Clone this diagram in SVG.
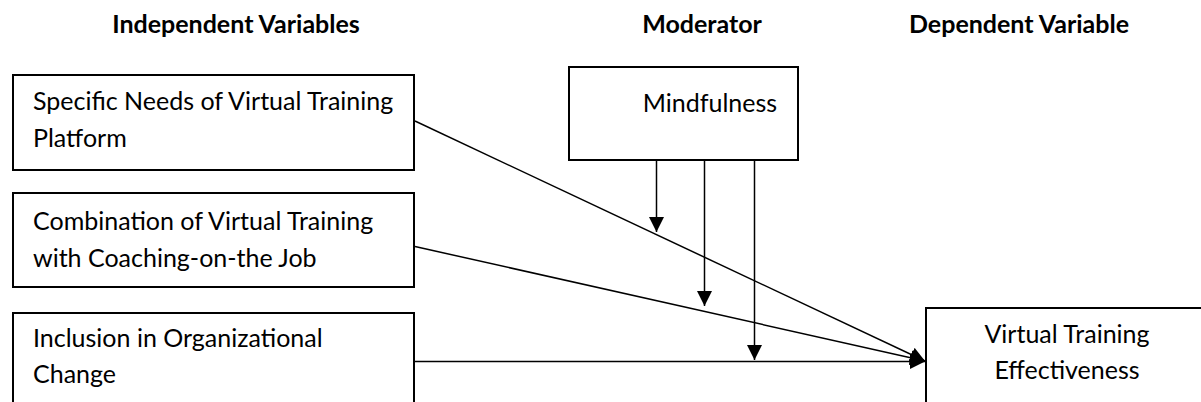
<svg xmlns="http://www.w3.org/2000/svg" width="1201" height="402" viewBox="0 0 1201 402">
<style>
.box{fill:#fff;stroke:#000;stroke-width:2}
.hdr{font-family:Lato,"Liberation Sans",sans-serif;font-weight:bold;font-size:25px;fill:#000}
.txt{font-family:Lato,"Liberation Sans",sans-serif;font-size:25px;fill:#000}
.ln{stroke:#000;stroke-width:1.5;fill:none}
</style>
<defs>
<marker id="ah" markerUnits="userSpaceOnUse" markerWidth="16" markerHeight="16" viewBox="0 0 16 16" refX="15" refY="8" orient="auto">
<path d="M0,0.5 L15,8 L0,15.5 Z" fill="#000"/>
</marker>
</defs>
<rect width="1201" height="402" fill="#fff"/>
<g id="headers">
<text class="hdr" x="236" y="33" text-anchor="middle">Independent Variables</text>
<text class="hdr" x="702" y="33" text-anchor="middle">Moderator</text>
<text class="hdr" x="1019" y="33" text-anchor="middle">Dependent Variable</text>
</g>
<g id="connectors">
<line class="ln" x1="415" y1="121" x2="925" y2="361" marker-end="url(#ah)"/>
<line class="ln" x1="415" y1="246.5" x2="925" y2="361" marker-end="url(#ah)"/>
<line class="ln" x1="415" y1="361.5" x2="925" y2="361.5" marker-end="url(#ah)"/>
<line class="ln" x1="656.5" y1="160" x2="656.5" y2="232" marker-end="url(#ah)"/>
<line class="ln" x1="704.5" y1="160" x2="704.5" y2="306" marker-end="url(#ah)"/>
<line class="ln" x1="754.5" y1="160" x2="754.5" y2="360" marker-end="url(#ah)"/>
</g>
<g id="node-specific-needs">
<rect class="box" x="13" y="75" width="401" height="95"/>
<text class="txt" x="33" y="110">Specific Needs of Virtual Training</text>
<text class="txt" x="33" y="147">Platform</text>
</g>
<g id="node-combination">
<rect class="box" x="13" y="193" width="401" height="94"/>
<text class="txt" x="33" y="230">Combination of Virtual Training</text>
<text class="txt" x="33" y="267">with Coaching-on-the Job</text>
</g>
<g id="node-inclusion">
<rect class="box" x="13" y="313" width="401" height="100"/>
<text class="txt" x="33" y="347">Inclusion in Organizational</text>
<text class="txt" x="33" y="383">Change</text>
</g>
<g id="node-mindfulness">
<rect class="box" x="569" y="67" width="229" height="93"/>
<text class="txt" x="710" y="112" text-anchor="middle">Mindfulness</text>
</g>
<g id="node-effectiveness">
<rect class="box" x="926" y="308" width="290" height="110"/>
<text class="txt" x="1067" y="343" text-anchor="middle">Virtual Training</text>
<text class="txt" x="1067" y="379" text-anchor="middle">Effectiveness</text>
</g>
</svg>
